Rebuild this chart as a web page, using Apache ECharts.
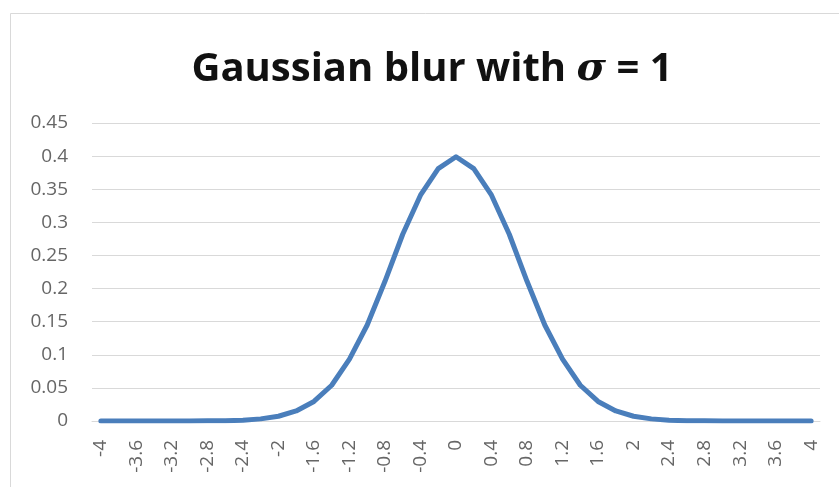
<!DOCTYPE html>
<html>
<head>
<meta charset="utf-8">
<script src="https://cdn.jsdelivr.net/npm/echarts@6/dist/echarts.min.js"></script>
<style>
  html, body { margin: 0; padding: 0; background: #fff; }
  #main { width: 839px; height: 487px; }
</style>
</head>
<body>
<div id="main"></div>
<script>
// x categories, -4 .. 4 in steps of 0.2
var categories = ['-4','-3.8','-3.6','-3.4','-3.2','-3','-2.8','-2.6','-2.4','-2.2',
  '-2','-1.8','-1.6','-1.4','-1.2','-1','-0.8','-0.6','-0.4','-0.2',
  '0','0.2','0.4','0.6','0.8','1','1.2','1.4','1.6','1.8',
  '2','2.2','2.4','2.6','2.8','3','3.2','3.4','3.6','3.8','4'];

// values
var blurValues = [0, 0, 0, 0, 0, 0.0001, 0.0002, 0.0005, 0.0013, 0.0032,
  0.0072, 0.0152, 0.0295, 0.054, 0.0935, 0.145, 0.211, 0.282, 0.341, 0.381,
  0.399, 0.381, 0.341, 0.282, 0.211, 0.145, 0.0935, 0.054, 0.0295, 0.0152,
  0.0072, 0.0032, 0.0013, 0.0005, 0.0002, 0.0001, 0, 0, 0, 0, 0];

var yTicks = { min: 0, max: 0.45, step: 0.05 };

var mychart = echarts.init(document.getElementById('main'));
var option = {
  backgroundColor: '#fff',
  animation: false,
  title: {
    text: '{n|Gaussian blur with }{s|σ}{n| = 1}',
    left: 427,
    top: 45,
    textAlign: 'center',
    textStyle: {
      rich: {
        n: { fontFamily: 'Open Sans', fontWeight: 'bold', fontSize: 40, color: '#111' },
        s: { fontFamily: 'DejaVu Serif', fontStyle: 'italic', fontWeight: 'bold', fontSize: 40, color: '#111' }
      }
    }
  },
  graphic: [{
    type: 'rect',
    shape: { x: 10.5, y: 13.5, width: 900, height: 600 },
    style: { fill: 'none', stroke: '#d9d9d9', lineWidth: 1 },
    silent: true
  }],
  grid: { left: 92, right: 19, top: 123, bottom: 66 },
  xAxis: {
    type: 'category',
    data: categories,
    boundaryGap: true,
    axisLine: { show: true, lineStyle: { color: '#d9d9d9', width: 1 } },
    axisTick: { show: false },
    axisLabel: {
      interval: 1,
      rotate: 90,
      margin: 19,
      fontFamily: 'Open Sans',
      fontSize: 19,
      color: '#666'
    },
    splitLine: { show: false }
  },
  yAxis: {
    type: 'value',
    min: yTicks.min,
    max: yTicks.max,
    interval: yTicks.step,
    axisLine: { show: false },
    axisTick: { show: false },
    axisLabel: {
      margin: 24,
      fontFamily: 'Open Sans',
      fontSize: 19,
      color: '#666',
      formatter: function (v) { return String(Math.round(v * 100) / 100); }
    },
    splitLine: { show: true, lineStyle: { color: '#d9d9d9', width: 1 } }
  },
  series: [{
    name: 'Gaussian blur',
    type: 'line',
    data: blurValues,
    smooth: false,
    showSymbol: false,
    lineStyle: { color: '#4A7EBB', width: 5, cap: 'round', join: 'round' }
  }]
};
mychart.setOption(option);
window.onresize = mychart.resize;
</script>
</body>
</html>
